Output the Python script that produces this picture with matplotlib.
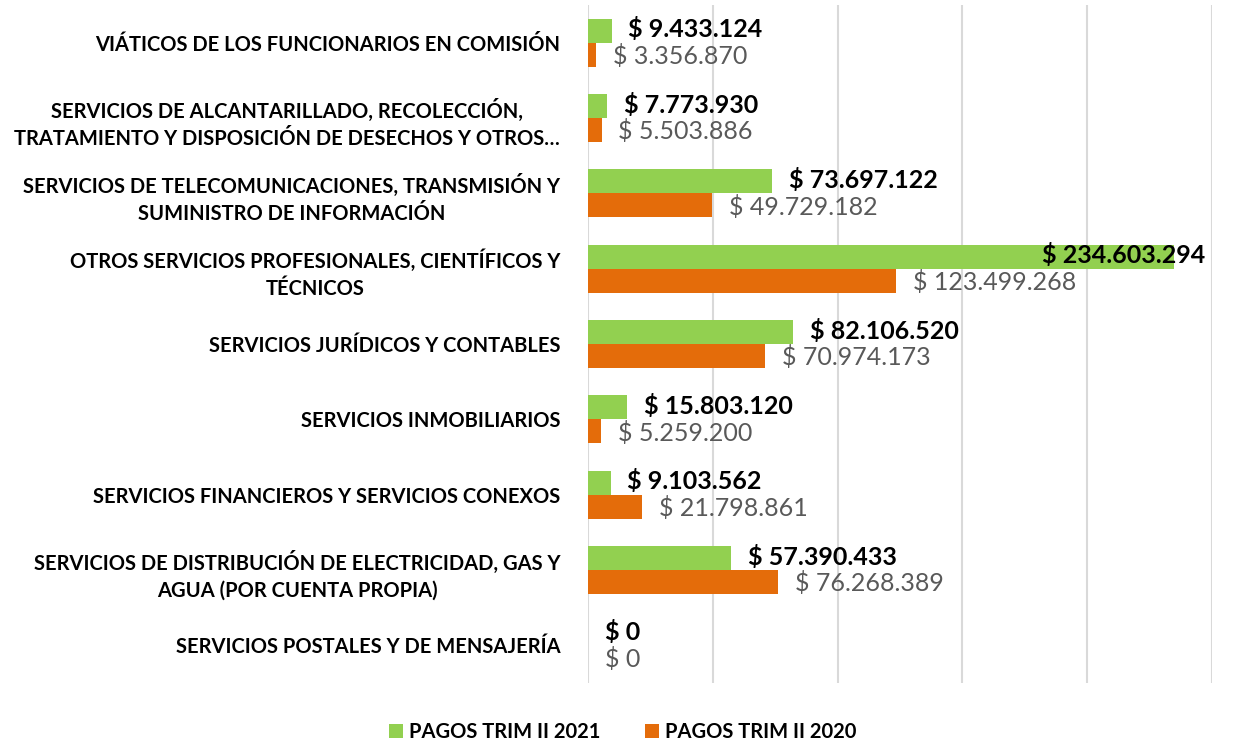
import numpy as np
import matplotlib.pyplot as plt

categories = [
    "VIÁTICOS DE LOS FUNCIONARIOS EN COMISIÓN",
    "SERVICIOS DE ALCANTARILLADO, RECOLECCIÓN,\nTRATAMIENTO Y DISPOSICIÓN DE DESECHOS Y OTROS…",
    "SERVICIOS DE TELECOMUNICACIONES, TRANSMISIÓN Y\nSUMINISTRO DE INFORMACIÓN",
    "OTROS SERVICIOS PROFESIONALES, CIENTÍFICOS Y\nTÉCNICOS",
    "SERVICIOS JURÍDICOS Y CONTABLES",
    "SERVICIOS INMOBILIARIOS",
    "SERVICIOS FINANCIEROS Y SERVICIOS CONEXOS",
    "SERVICIOS DE DISTRIBUCIÓN DE ELECTRICIDAD, GAS Y\nAGUA (POR CUENTA PROPIA)",
    "SERVICIOS POSTALES Y DE MENSAJERÍA",
]
pagos_2021 = [9433124, 7773930, 73697122, 234603294, 82106520, 15803120, 9103562, 57390433, 0]
pagos_2020 = [3356870, 5503886, 49729182, 123499268, 70974173, 5259200, 21798861, 76268389, 0]
series_names = ["PAGOS TRIM II 2021", "PAGOS TRIM II 2020"]

GREEN = "#92D050"
ORANGE = "#E46C0A"
FONT = ["Lato", "DejaVu Sans"]
XMAX = 250_000_000

plt.rcParams['font.family'] = FONT


def fmt(v):
    return "$ " + f"{v:,.0f}".replace(",", ".")


fig = plt.figure(figsize=(12.45, 7.42), dpi=100)
ax = fig.add_axes([0.4723, 0.0795, 0.5012, 0.9137])

y = np.arange(len(categories))
h = 0.32
b21 = ax.barh(y - h / 2, pagos_2021, height=h, color=GREEN, label=series_names[0], zorder=3)
b20 = ax.barh(y + h / 2, pagos_2020, height=h, color=ORANGE, label=series_names[1], zorder=3)

ax.set_xlim(0, XMAX)
ax.set_ylim(len(categories) - 0.5, -0.5)
ax.set_xticks(np.arange(0, XMAX + 1, 50_000_000))
ax.xaxis.grid(True, color="#D9D9D9", linewidth=1.5, zorder=0)
ax.tick_params(axis="x", length=0, labelbottom=False)
ax.tick_params(axis="y", length=0, pad=20)
ax.set_yticks(y)
ax.set_yticklabels(categories, fontsize=14.5, fontweight="bold", multialignment="center", linespacing=1.45)
for s in ax.spines.values():
    s.set_visible(False)

for yi, v in zip(y, pagos_2021):
    if v > 0.85 * XMAX:
        ax.annotate(fmt(v), (XMAX, yi - h / 2), xytext=(-5, 1), textcoords="offset points",
                    ha="right", va="center", fontsize=18, fontweight="bold", color="black", zorder=5)
    else:
        ax.annotate(fmt(v), (v, yi - h / 2), xytext=(12, 1), textcoords="offset points",
                    ha="left", va="center", fontsize=18, fontweight="bold", color="black", zorder=5)
for yi, v in zip(y, pagos_2020):
    ax.annotate(fmt(v), (v, yi + h / 2), xytext=(12, -1), textcoords="offset points",
                ha="left", va="center", fontsize=18, color="#595959", zorder=5)

leg = fig.legend(handles=[b21, b20], loc="center", bbox_to_anchor=(0.5, 0.013), ncol=2,
                 frameon=False, prop={"family": FONT, "weight": "bold", "size": 14.5},
                 handlelength=0.7, handleheight=0.7, handletextpad=0.3, columnspacing=2.2)

fig.savefig("out.png", dpi=100)
